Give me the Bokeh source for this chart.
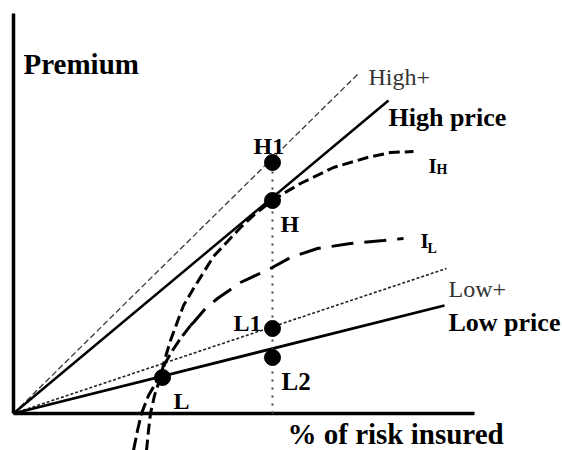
from bokeh.plotting import figure
from bokeh.models import Range1d
from bokeh.core.properties import value
from bokeh.embed import file_html
from bokeh.resources import INLINE

# ---- data (units: screen-like units measured from the origin, y up) ----
# price lines, all starting at the origin
price_names = ["High+", "High price", "Low+", "Low price"]
price_end_x = [346, 375, 433, 431]
price_end_y = [341, 313, 145, 108]

# contract points
pt_names = ["H1", "H", "L1", "L2", "L"]
pt_x = [259, 259, 259, 259, 149]
pt_y = [251, 213, 85, 56, 36]

# indifference curve I_H
ih_x = [133, 135, 137, 141, 147, 151, 157, 164, 170, 180, 190, 200, 214, 227, 242, 259, 270, 287, 320, 354, 377, 400]
ih_y = [-37, -17, 0, 18, 36, 53, 73, 92, 108, 125, 141, 157, 172, 186, 200, 213, 220, 230, 246, 256, 261, 262]

# indifference curve I_L (lower short-dashed part, upper long-dashed part)
il_lo_x = [120, 124, 128, 135, 142, 147, 152, 159, 167, 177]
il_lo_y = [-37, -17, 0, 18, 30, 39, 51, 63, 75, 88]
il_hi_x = [177, 180, 192, 204, 227, 257, 277, 304, 337, 370, 390]
il_hi_y = [88, 91, 105, 115, 131, 145, 156, 165, 170, 173, 175]

# axes
axis_x_end = 461
axis_y_end = 400

# labels
lab_text = ["High price", "Low price", "H1", "H", "L1", "L2", "L"]
lab_x = [375, 435, 240, 267, 220, 268, 160]
lab_y = [296, 91, 268, 190, 91, 32, 13]
lab_size = ["26px", "26px", "24px", "24px", "24px", "25px", "24px"]

thin_text = ["High+", "Low+"]
thin_x = [355, 435]
thin_y = [337, 125]

title_text = ["Premium", "% of risk insured"]
title_x = [10, 274]
title_y = [350, -20]

ind_text = ["I", "I"]
ind_x = [415, 407]
ind_y = [248, 173]
sub_text = ["H", "L"]
sub_x = [423, 414]
sub_y = [244, 165]

FONT = value("Liberation Serif")

p = figure(width=562, height=450, output_backend="svg", toolbar_location=None,
           x_range=Range1d(-13, 549), y_range=Range1d(-37, 413),
           x_axis_type=None, y_axis_type=None, min_border=0,
           outline_line_color=None)
p.grid.visible = False

# axes
p.segment(x0=[0, 0], y0=[0, 0], x1=[axis_x_end, 0], y1=[0, axis_y_end],
          line_color="black", line_width=3.5)

# price lines
p.segment(x0=0, y0=0, x1=price_end_x[0], y1=price_end_y[0],
          line_color="#3a3a3a", line_width=1.3, line_dash="6 3")
p.segment(x0=0, y0=0, x1=price_end_x[1], y1=price_end_y[1],
          line_color="black", line_width=2.5)
p.segment(x0=0, y0=0, x1=price_end_x[2], y1=price_end_y[2],
          line_color="#222222", line_width=1.6, line_dash="3 2")
p.segment(x0=0, y0=0, x1=price_end_x[3], y1=price_end_y[3],
          line_color="black", line_width=2.8)

# vertical dotted line
p.segment(x0=pt_x[0], y0=0, x1=pt_x[0], y1=pt_y[0],
          line_color="#444444", line_width=2, line_dash="2 6")

# indifference curves
p.line(ih_x, ih_y, line_color="black", line_width=3, line_dash="11 5")
p.line(il_lo_x, il_lo_y, line_color="black", line_width=3, line_dash="13 5")
p.line(il_hi_x, il_hi_y, line_color="black", line_width=3, line_dash="22 11")

# points
p.scatter(pt_x, pt_y, size=16, color="black")

# labels
p.text(x=lab_x, y=lab_y, text=lab_text, text_font=FONT, text_font_style="bold",
       text_font_size=lab_size, text_color="black", text_baseline="alphabetic")
p.text(x=thin_x, y=thin_y, text=thin_text, text_font=FONT,
       text_font_size="24px", text_color="#333333", text_baseline="alphabetic")
p.text(x=title_x, y=title_y, text=title_text, text_font=FONT, text_font_style="bold",
       text_font_size="29px", text_color="black", text_baseline="alphabetic")
p.text(x=ind_x, y=ind_y, text=ind_text, text_font=FONT, text_font_style="bold",
       text_font_size="21px", text_color="black", text_baseline="alphabetic")
p.text(x=sub_x, y=sub_y, text=sub_text, text_font=FONT, text_font_style="bold",
       text_font_size="14px", text_color="black", text_baseline="alphabetic")

open("out.html", "w").write(file_html(p, INLINE))
